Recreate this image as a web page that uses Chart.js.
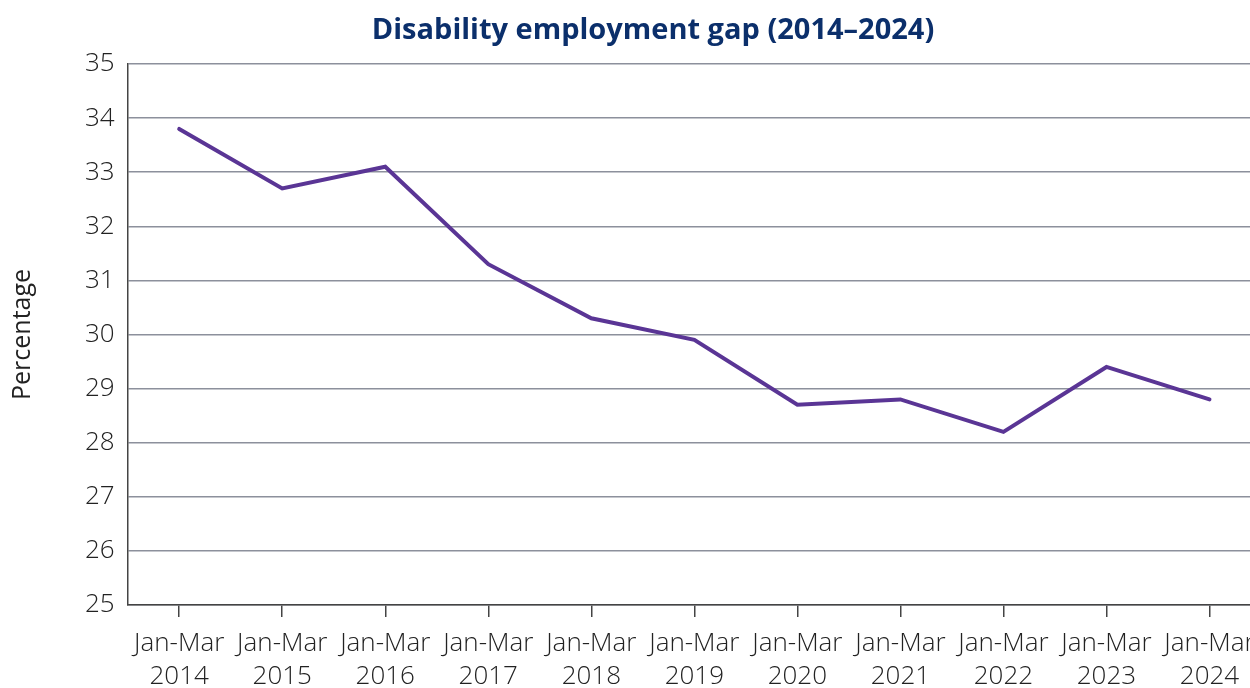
<!DOCTYPE html>
<html>
<head>
<meta charset="utf-8">
<script src="https://cdn.jsdelivr.net/npm/chart.js@4"></script>
<style>
html,body{margin:0;padding:0;overflow:hidden;background:#fff;width:1250px;height:688px;}
#wrap{position:absolute;left:0;top:0;width:1306px;height:703px;}
</style>
</head>
<body>
<div id="wrap"><canvas id="c" width="1306" height="703"></canvas></div>
<script>
const categories = [["Jan-Mar","2014"],["Jan-Mar","2015"],["Jan-Mar","2016"],["Jan-Mar","2017"],["Jan-Mar","2018"],["Jan-Mar","2019"],["Jan-Mar","2020"],["Jan-Mar","2021"],["Jan-Mar","2022"],["Jan-Mar","2023"],["Jan-Mar","2024"]];
const gapValues = [33.8, 32.7, 33.1, 31.3, 30.3, 29.9, 28.7, 28.8, 28.2, 29.4, 28.8];
const titleText = "Disability employment gap (2014\u20132024)";
const yTitle = "Percentage";

const font = "'Open Sans', Lato, sans-serif";
const titleFont = "bold 29px 'Open Sans', sans-serif";

const centeredTitle = {
  id: 'centeredTitle',
  afterDraw(chart) {
    const ctx = chart.ctx;
    ctx.save();
    ctx.font = titleFont;
    ctx.fillStyle = '#0b2f6b';
    ctx.textAlign = 'center';
    ctx.textBaseline = 'middle';
    ctx.fillText(titleText, chart.width / 2, 31);
    ctx.restore();
  }
};

new Chart(document.getElementById('c'), {
  type: 'line',
  data: {
    labels: categories,
    datasets: [{
      data: gapValues,
      borderColor: '#5a3595',
      borderWidth: 4,
      pointRadius: 0,
      tension: 0,
      fill: false,
      borderCapStyle: 'round'
    }]
  },
  options: {
    responsive: false,
    animation: false,
    layout: { padding: { left: 4, right: 45, top: 64, bottom: 0 } },
    plugins: {
      legend: { display: false },
      tooltip: { enabled: false },
      title: { display: false }
    },
    scales: {
      x: {
        offset: true,
        grid: { display: true, drawOnChartArea: false, drawTicks: true, tickLength: 12, color: '#444', lineWidth: 1.5 },
        border: { display: true, color: '#444', width: 1.5 },
        ticks: { color: '#222', font: { family: font, size: 26, weight: 300, lineHeight: 1.27 }, padding: 10, maxRotation: 0, autoSkip: false }
      },
      y: {
        min: 25, max: 35,
        title: { display: true, text: yTitle, color: '#222', font: { family: font, size: 25, weight: 400 }, padding: { bottom: 34 } },
        grid: { color: '#8c909c', lineWidth: 1.5, drawTicks: false },
        border: { display: true, color: '#444', width: 1.5 },
        ticks: { stepSize: 1, color: '#222', font: { family: font, size: 26, weight: 300 }, padding: 13 }
      }
    }
  },
  plugins: [centeredTitle]
});
</script>
</body>
</html>
